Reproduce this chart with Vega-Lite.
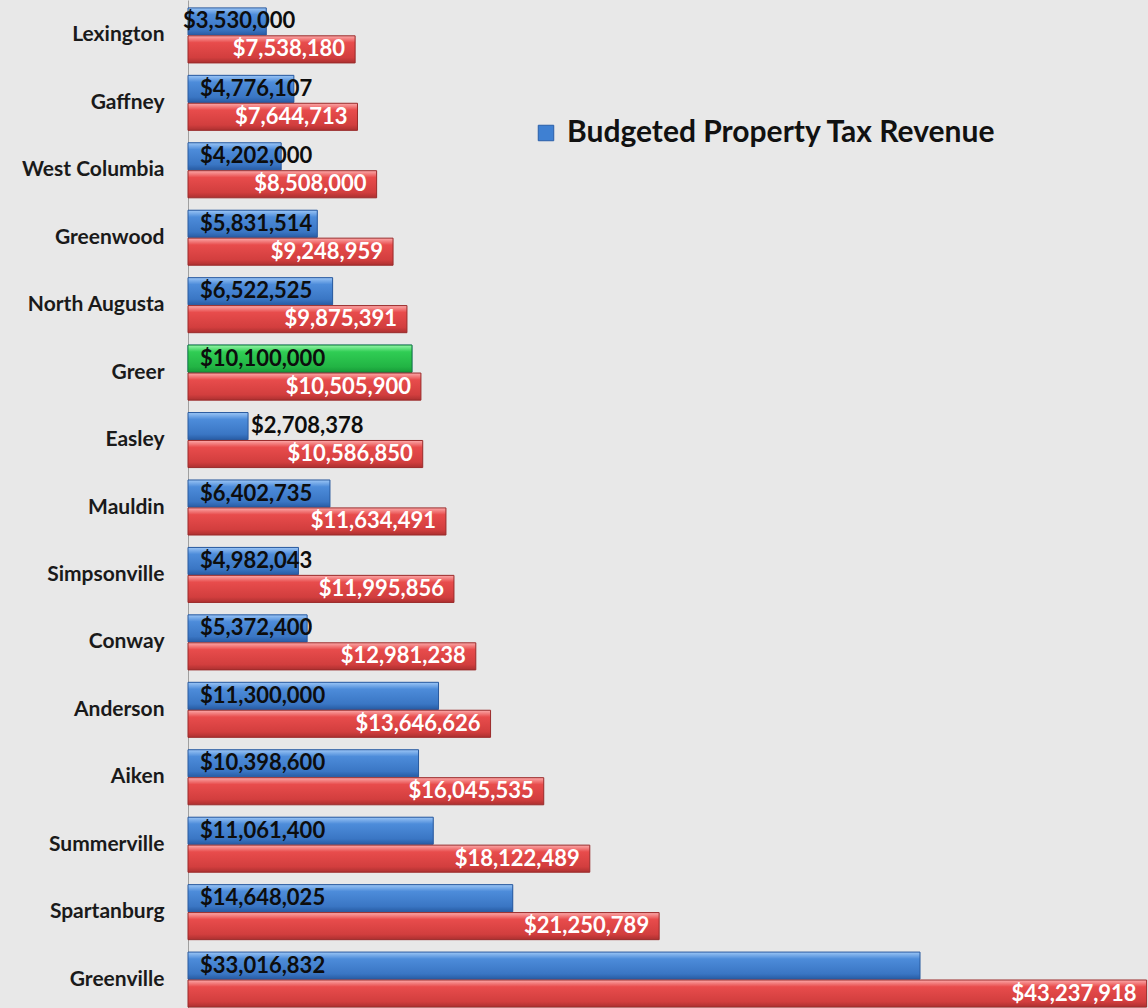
{
  "$schema": "https://vega.github.io/schema/vega-lite/v6.json",
  "width": 960,
  "height": 1008,
  "autosize": {"type": "none"},
  "padding": {"left": 188, "top": 0, "right": 0, "bottom": 0},
  "background": "#e8e8e8",
  "config": {"view": {"stroke": null}},
  "data": {
    "values": [
      {"city": "Lexington", "series": "Budgeted Property Tax Revenue", "value": 3530000},
      {"city": "Lexington", "series": "Comparison", "value": 7538180},
      {"city": "Gaffney", "series": "Budgeted Property Tax Revenue", "value": 4776107},
      {"city": "Gaffney", "series": "Comparison", "value": 7644713},
      {"city": "West Columbia", "series": "Budgeted Property Tax Revenue", "value": 4202000},
      {"city": "West Columbia", "series": "Comparison", "value": 8508000},
      {"city": "Greenwood", "series": "Budgeted Property Tax Revenue", "value": 5831514},
      {"city": "Greenwood", "series": "Comparison", "value": 9248959},
      {"city": "North Augusta", "series": "Budgeted Property Tax Revenue", "value": 6522525},
      {"city": "North Augusta", "series": "Comparison", "value": 9875391},
      {"city": "Greer", "series": "Budgeted Property Tax Revenue", "value": 10100000},
      {"city": "Greer", "series": "Comparison", "value": 10505900},
      {"city": "Easley", "series": "Budgeted Property Tax Revenue", "value": 2708378},
      {"city": "Easley", "series": "Comparison", "value": 10586850},
      {"city": "Mauldin", "series": "Budgeted Property Tax Revenue", "value": 6402735},
      {"city": "Mauldin", "series": "Comparison", "value": 11634491},
      {"city": "Simpsonville", "series": "Budgeted Property Tax Revenue", "value": 4982043},
      {"city": "Simpsonville", "series": "Comparison", "value": 11995856},
      {"city": "Conway", "series": "Budgeted Property Tax Revenue", "value": 5372400},
      {"city": "Conway", "series": "Comparison", "value": 12981238},
      {"city": "Anderson", "series": "Budgeted Property Tax Revenue", "value": 11300000},
      {"city": "Anderson", "series": "Comparison", "value": 13646626},
      {"city": "Aiken", "series": "Budgeted Property Tax Revenue", "value": 10398600},
      {"city": "Aiken", "series": "Comparison", "value": 16045535},
      {"city": "Summerville", "series": "Budgeted Property Tax Revenue", "value": 11061400},
      {"city": "Summerville", "series": "Comparison", "value": 18122489},
      {"city": "Spartanburg", "series": "Budgeted Property Tax Revenue", "value": 14648025},
      {"city": "Spartanburg", "series": "Comparison", "value": 21250789},
      {"city": "Greenville", "series": "Budgeted Property Tax Revenue", "value": 33016832},
      {"city": "Greenville", "series": "Comparison", "value": 43237918}
    ]
  },
  "encoding": {
    "y": {
      "field": "city", "type": "nominal", "sort": null,
      "scale": {"paddingInner": 0.184, "paddingOuter": 0.117, "range": [0, 1015]},
      "axis": {
        "title": null, "ticks": false, "labelPadding": 24,
        "labelFont": "Lato", "labelFontWeight": "bold", "labelFontSize": 21, "labelColor": "#1a1a1a",
        "domainColor": "#a0a0a0", "domainWidth": 1, "grid": false, "labelLimit": 0
      }
    },
    "yOffset": {"field": "series", "type": "nominal", "sort": null, "scale": {"paddingInner": 0.03}}
  },
  "layer": [
    {
      "transform": [{"filter": "datum.series === 'Budgeted Property Tax Revenue'"}],
      "mark": {"type": "bar"},
      "encoding": {
        "x": {"field": "value", "type": "quantitative", "scale": {"domain": [0, 43300000], "nice": false}, "axis": null},
        "color": {
          "datum": "Budgeted Property Tax Revenue",
          "scale": {"range": ["#3f80d2"]},
          "legend": {
            "orient": "none", "legendX": 343, "legendY": 118, "title": null,
            "labelFont": "Lato", "labelFontWeight": "bold", "labelFontSize": 30, "labelColor": "#111111",
            "labelLimit": 0,
            "symbolType": "square", "symbolSize": 240, "symbolStrokeColor": "#2a5fa8", "symbolStrokeWidth": 1,
            "labelOffset": 6
          }
        }
      }
    },
    {
      "transform": [{"filter": "datum.series === 'Budgeted Property Tax Revenue'"}],
      "mark": {
        "type": "bar", "stroke": "#2a5a9e", "strokeWidth": 1,
        "fill": {"gradient": "linear", "x1": 0, "y1": 0, "x2": 0, "y2": 1,
          "stops": [{"offset": 0, "color": "#9cc6f6"}, {"offset": 0.25, "color": "#4d8cda"}, {"offset": 0.8, "color": "#3a76c4"}, {"offset": 1, "color": "#285ca4"}]}
      },
      "encoding": {"x": {"field": "value", "type": "quantitative"}}
    },
    {
      "transform": [{"filter": "datum.series === 'Budgeted Property Tax Revenue' && datum.city === 'Greer'"}],
      "mark": {
        "type": "bar", "stroke": "#17883a", "strokeWidth": 1,
        "fill": {"gradient": "linear", "x1": 0, "y1": 0, "x2": 0, "y2": 1,
          "stops": [{"offset": 0, "color": "#96f6aa"}, {"offset": 0.25, "color": "#30cd54"}, {"offset": 0.8, "color": "#22b444"}, {"offset": 1, "color": "#179a38"}]}
      },
      "encoding": {"x": {"field": "value", "type": "quantitative"}}
    },
    {
      "transform": [{"filter": "datum.series === 'Comparison'"}],
      "mark": {
        "type": "bar", "stroke": "#9a2a2a", "strokeWidth": 1,
        "fill": {"gradient": "linear", "x1": 0, "y1": 0, "x2": 0, "y2": 1,
          "stops": [{"offset": 0, "color": "#fcaaaa"}, {"offset": 0.25, "color": "#e84c4c"}, {"offset": 0.8, "color": "#d23e3e"}, {"offset": 1, "color": "#ac3030"}]}
      },
      "encoding": {"x": {"field": "value", "type": "quantitative"}}
    },
    {
      "transform": [{"filter": "datum.series === 'Budgeted Property Tax Revenue' && datum.city !== 'Easley' && datum.city !== 'Lexington'"}],
      "mark": {"type": "text", "align": "left", "baseline": "middle", "dx": 12, "font": "Lato", "fontWeight": "bold", "fontSize": 22, "color": "#0d0d0d"},
      "encoding": {
        "x": {"datum": 0, "type": "quantitative"},
        "text": {"field": "value", "type": "quantitative", "format": "$,.0f"}
      }
    },
    {
      "transform": [{"filter": "datum.series === 'Budgeted Property Tax Revenue' && datum.city === 'Lexington'"}],
      "mark": {"type": "text", "align": "left", "baseline": "middle", "dx": -5, "font": "Lato", "fontWeight": "bold", "fontSize": 22, "color": "#0d0d0d"},
      "encoding": {
        "x": {"datum": 0, "type": "quantitative"},
        "text": {"field": "value", "type": "quantitative", "format": "$,.0f"}
      }
    },
    {
      "transform": [{"filter": "datum.series === 'Budgeted Property Tax Revenue' && datum.city === 'Easley'"}],
      "mark": {"type": "text", "align": "left", "baseline": "middle", "dx": 3, "font": "Lato", "fontWeight": "bold", "fontSize": 22, "color": "#0d0d0d"},
      "encoding": {
        "x": {"field": "value", "type": "quantitative"},
        "text": {"field": "value", "type": "quantitative", "format": "$,.0f"}
      }
    },
    {
      "transform": [{"filter": "datum.series === 'Comparison'"}],
      "mark": {"type": "text", "align": "right", "baseline": "middle", "dx": -10, "font": "Lato", "fontWeight": "bold", "fontSize": 22, "color": "#ffffff"},
      "encoding": {
        "x": {"field": "value", "type": "quantitative"},
        "text": {"field": "value", "type": "quantitative", "format": "$,.0f"}
      }
    }
  ]
}
